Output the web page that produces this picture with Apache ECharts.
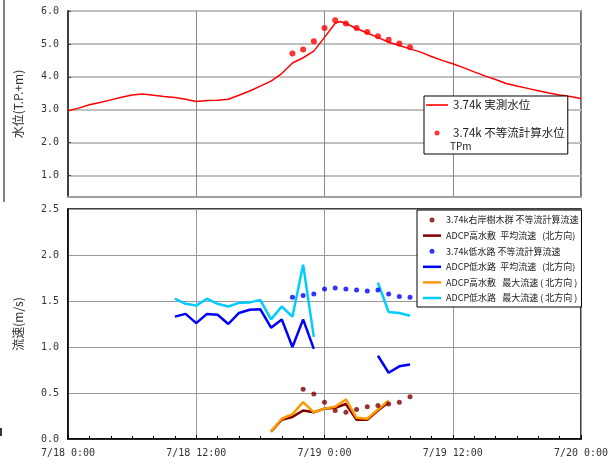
<!DOCTYPE html>
<html>
<head>
<meta charset="utf-8">
<script src="https://cdn.jsdelivr.net/npm/echarts@6/dist/echarts.min.js"></script>
<style>html,body{margin:0;padding:0;background:#fff;}#c{width:615px;height:466px;}</style>
</head>
<body>
<div id="c"></div>
<script>
// ---- data ----
const xTickLabels = ['7/18 0:00', '7/18 12:00', '7/19 0:00', '7/19 12:00', '7/20 0:00'];
const yTopTicks = [1, 2, 3, 4, 5, 6];

// observed water level (hours from 7/18 0:00)
const wlHours = [0,1,2,3,4,5,6,7,8,9,10,11,12,13,14,15,16,17,18,19,20,21,22,23,24,25,25.5,26,27,28,29,30,31,32,33,34,35,36,37,38,39,40,41,42,43,44,45,46,47,48];
const wlObserved = [2.97,3.05,3.15,3.22,3.30,3.38,3.45,3.48,3.44,3.40,3.37,3.32,3.25,3.28,3.29,3.32,3.44,3.57,3.72,3.87,4.10,4.42,4.58,4.78,5.20,5.63,5.68,5.62,5.47,5.33,5.20,5.05,4.95,4.85,4.75,4.62,4.50,4.40,4.28,4.15,4.03,3.92,3.80,3.72,3.65,3.58,3.51,3.45,3.40,3.34];

// calculated water level
const calcHours = [21,22,23,24,25,26,27,28,29,30,31,32];
const calcWL = [4.71,4.83,5.08,5.48,5.72,5.62,5.48,5.36,5.23,5.13,5.01,4.90];

// velocities
const treeCalcHours = [22,23,24,25,26,27,28,29,30,31,32];
const treeCalc = [0.54,0.49,0.40,0.31,0.29,0.32,0.35,0.365,0.38,0.40,0.46];

const highHours = [19,20,21,22,23,24,25,26,27,28,29,30];
const highMean = [0.08,0.21,0.24,0.31,0.29,0.33,0.34,0.38,0.21,0.21,0.31,0.40];
const highMax  = [0.08,0.22,0.27,0.40,0.29,0.33,0.35,0.43,0.23,0.22,0.32,0.42];

const lowCalcHours = [21,22,23,24,25,26,27,28,29,30,31,32];
const lowCalc = [1.54,1.56,1.575,1.63,1.64,1.63,1.62,1.61,1.62,1.575,1.55,1.54];

const lowHours = [10,11,12,13,14,15,16,17,18,19,20,21,22,23,24,25,26,27,28,29,30,31,32];
const lowMean = [1.33,1.36,1.26,1.36,1.35,1.25,1.37,1.405,1.41,1.21,1.30,1.00,1.30,0.98,null,null,null,null,null,0.905,0.72,0.79,0.81];
const lowMax  = [1.525,1.47,1.45,1.525,1.47,1.44,1.48,1.485,1.51,1.30,1.44,1.33,1.895,1.11,null,null,null,null,null,1.70,1.38,1.37,1.34];

const names = {
  wl: '3.74k 実測水位',
  wlCalc: '3.74k 不等流計算水位',
  tree: '3.74k右岸樹木群 不等流計算流速',
  highMean: 'ADCP高水敷  平均流速   (北方向)',
  lowCalc: '3.74k低水路 不等流計算流速',
  lowMean: 'ADCP低水路  平均流速   (北方向)',
  highMax: 'ADCP高水敷   最大流速 ( 北方向 )',
  lowMax: 'ADCP低水路   最大流速 ( 北方向 )'
};

const pairs = (xs, ys) => xs.map((x, i) => [x, ys[i] == null ? '-' : ys[i]]);

const MONO = 'DejaVu Sans Mono';
const JP = 'Noto Sans CJK JP';
const tickLabel = { fontFamily: MONO, fontSize: 10, color: '#333' };
const lineIconTop = 'path://M0,0H22V1.6H0Z';
const lineIconBottom = 'path://M0,0H18V2.5H0Z';

const chart = echarts.init(document.getElementById('c'), null, { renderer: 'canvas' });
chart.setOption({
  backgroundColor: '#fff',
  animation: false,
  grid: [
    { left: 68, right: 34, top: 11, height: 186, show: true, borderColor: '#404040', borderWidth: 1.5, backgroundColor: 'transparent' },
    { left: 68, right: 34, top: 209, height: 230, show: true, borderColor: '#000', borderWidth: 1.5, backgroundColor: 'transparent' }
  ],
  xAxis: [
    {
      gridIndex: 0, type: 'value', min: 0, max: 48, interval: 12,
      axisLine: { lineStyle: { color: '#a0a0a0', width: 2 } },
      axisTick: { show: false }, axisLabel: { show: false },
      splitLine: { show: true, lineStyle: { color: '#888', width: 1 } }
    },
    {
      gridIndex: 1, type: 'value', min: 0, max: 48, interval: 12,
      axisLine: { lineStyle: { color: '#000', width: 1.5 } },
      axisTick: { show: true, inside: true, length: 4, lineStyle: { color: '#000' } },
      minorTick: { show: true, splitNumber: 6, length: 3, lineStyle: { color: '#000' } },
      axisLabel: Object.assign({ margin: 9, showMinLabel: true, showMaxLabel: true,
        formatter: v => xTickLabels[Math.round(v / 12)] }, tickLabel),
      splitLine: { show: true, lineStyle: { color: '#999', width: 1 } }
    }
  ],
  yAxis: [
    {
      gridIndex: 0, type: 'value', min: 0.35, max: 6,
      axisLine: { show: true, lineStyle: { color: '#404040', width: 2 } },
      axisTick: { show: true, inside: true, length: 3, customValues: yTopTicks, lineStyle: { color: '#404040' } },
      axisLabel: Object.assign({ customValues: yTopTicks, margin: 9, formatter: v => v.toFixed(1) }, tickLabel),
      splitLine: { show: true, lineStyle: { color: '#c0c0c0', width: 2 } },
      name: '水位(T.P.+m)', nameLocation: 'middle', nameGap: 44,
      nameTextStyle: { fontFamily: JP, fontSize: 12, color: '#333' }
    },
    {
      gridIndex: 1, type: 'value', min: 0, max: 2.5, interval: 0.5,
      axisLine: { show: true, lineStyle: { color: '#000', width: 1.5 } },
      axisTick: { show: false },
      axisLabel: Object.assign({ margin: 9, formatter: v => v.toFixed(1) }, tickLabel),
      splitLine: { show: true, lineStyle: { color: '#999', width: 1 } },
      name: '流速(m/s)', nameLocation: 'middle', nameGap: 44,
      nameTextStyle: { fontFamily: JP, fontSize: 12, color: '#333' }
    }
  ],
  legend: [
    {
      orient: 'vertical', left: 424, top: 96,
      data: [{ name: names.wl, icon: lineIconTop }, { name: names.wlCalc, icon: 'circle' }],
      itemWidth: 22, itemHeight: 5, itemGap: 14,
      padding: [2, 3, 14, 2],
      backgroundColor: '#fff', borderColor: '#000', borderWidth: 1, borderRadius: 0,
      textStyle: { fontFamily: JP, fontSize: 11.5, color: '#222', lineHeight: 14 }
    },
    {
      orient: 'vertical', left: 417, top: 210,
      data: [
        { name: names.tree, icon: 'circle' },
        { name: names.highMean, icon: lineIconBottom },
        { name: names.lowCalc, icon: 'circle' },
        { name: names.lowMean, icon: lineIconBottom },
        { name: names.highMax, icon: lineIconBottom },
        { name: names.lowMax, icon: lineIconBottom }
      ],
      itemWidth: 18, itemHeight: 5, itemGap: 3.6,
      padding: [4, 3, 3, 6],
      backgroundColor: '#fff', borderColor: '#000', borderWidth: 1, borderRadius: 0,
      textStyle: { fontFamily: JP, fontSize: 9, color: '#222', lineHeight: 12 }
    }
  ],
  graphic: [
    { type: 'text', left: 450, top: 141, z: 100, style: { text: 'TPm', fontFamily: JP, fontSize: 10, fill: '#222' } },
    { type: 'line', shape: { x1: 4, y1: 0, x2: 4, y2: 202 }, style: { stroke: '#000', lineWidth: 1 } },
    { type: 'rect', shape: { x: 0, y: 428, width: 2, height: 8 }, style: { fill: '#333' } }
  ],
  series: [
    { name: names.wl, type: 'line', xAxisIndex: 0, yAxisIndex: 0, symbol: 'none',
      data: pairs(wlHours, wlObserved), lineStyle: { color: '#ff0000', width: 1.5 }, itemStyle: { color: '#ff0000' } },
    { name: names.wlCalc, type: 'scatter', xAxisIndex: 0, yAxisIndex: 0, symbolSize: 6,
      data: pairs(calcHours, calcWL), itemStyle: { color: '#ff0000' }, z: 5 },

    { name: names.highMean, type: 'line', xAxisIndex: 1, yAxisIndex: 1, symbol: 'none',
      data: pairs(highHours, highMean), lineStyle: { color: '#800000', width: 2.5 }, itemStyle: { color: '#800000' } },
    { name: names.highMax, type: 'line', xAxisIndex: 1, yAxisIndex: 1, symbol: 'none',
      data: pairs(highHours, highMax), lineStyle: { color: '#ff9900', width: 2.5 }, itemStyle: { color: '#ff9900' } },
    { name: names.lowMean, type: 'line', xAxisIndex: 1, yAxisIndex: 1, symbol: 'none', connectNulls: false,
      data: pairs(lowHours, lowMean), lineStyle: { color: '#0000ff', width: 2.5 }, itemStyle: { color: '#0000ff' } },
    { name: names.lowMax, type: 'line', xAxisIndex: 1, yAxisIndex: 1, symbol: 'none', connectNulls: false,
      data: pairs(lowHours, lowMax), lineStyle: { color: '#00ccff', width: 2.5 }, itemStyle: { color: '#00ccff' } },
    { name: names.tree, type: 'scatter', xAxisIndex: 1, yAxisIndex: 1, symbolSize: 5,
      data: pairs(treeCalcHours, treeCalc), itemStyle: { color: '#800000' }, z: 5 },
    { name: names.lowCalc, type: 'scatter', xAxisIndex: 1, yAxisIndex: 1, symbolSize: 5,
      data: pairs(lowCalcHours, lowCalc), itemStyle: { color: '#0000ff' }, z: 5 }
  ]
});
</script>
</body>
</html>
